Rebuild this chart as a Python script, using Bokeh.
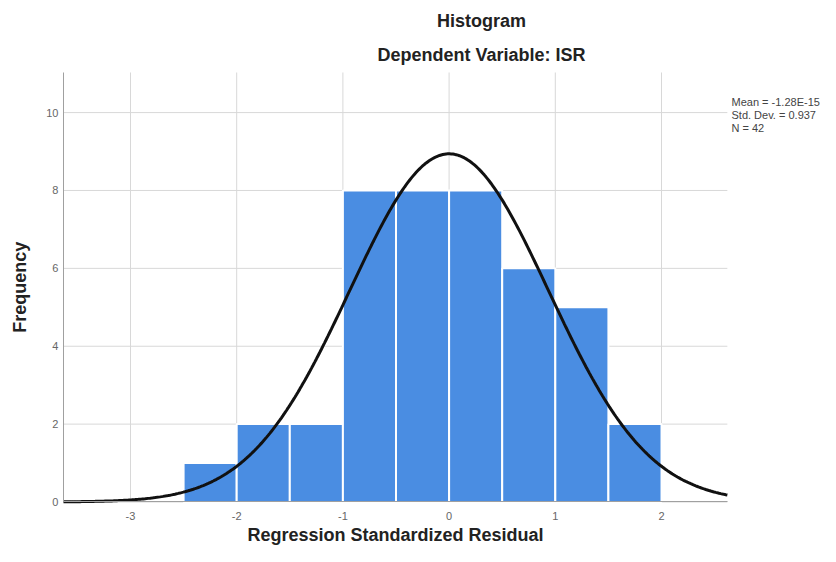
import numpy as np
from bokeh.plotting import figure
from bokeh.models import Range1d, Label, FixedTicker
from bokeh.embed import file_html
from bokeh.resources import INLINE

# Data
bin_edges = [-2.5, -2.0, -1.5, -1.0, -0.5, 0.0, 0.5, 1.0, 1.5, 2.0]
counts = [1, 2, 2, 8, 8, 8, 6, 5, 2]
x_ticks = [-3, -2, -1, 0, 1, 2]
y_ticks = [0, 2, 4, 6, 8, 10]
stat_mean = -1.28e-15
stat_sd = 0.937
stat_n = 42
stats_lines = ["Mean = -1.28E-15", "Std. Dev. = 0.937", "N = 42"]
title_text = "Histogram"
subtitle_text = "Dependent Variable: ISR"
x_label = "Regression Standardized Residual"
y_label = "Frequency"

FONT = "Liberation Sans"

# visible chart area (data units)
X0, X1 = -3.631, 2.62
Y0, Y1 = 0.0, 11.03

# the frame covers the whole canvas; axes are pinned to the chart area
p = figure(width=820, height=546, output_backend="svg", toolbar_location=None,
           x_range=Range1d(-4.224, 3.497), y_range=Range1d(-1.143, 12.879),
           min_border=0)
p.title.visible = False
p.outline_line_color = None
p.background_fill_color = "white"
p.xgrid.visible = False
p.ygrid.visible = False

# grid lines limited to the chart area
p.segment(x0=x_ticks, x1=x_ticks, y0=Y0, y1=Y1, line_color="#d8d8d8", line_width=1,
          level="underlay")
p.segment(x0=X0, x1=X1, y0=y_ticks, y1=y_ticks, line_color="#d8d8d8", line_width=1,
          level="underlay")

# bars
p.quad(left=bin_edges[:-1], right=bin_edges[1:], bottom=0, top=counts,
       fill_color="#4a8de2", line_color="white", line_width=2)

# normal curve from the stated statistics
bw = bin_edges[1] - bin_edges[0]
xs = np.linspace(X0, X1, 400)
ys = stat_n * bw * np.exp(-0.5 * ((xs - stat_mean) / stat_sd) ** 2) / (stat_sd * np.sqrt(2 * np.pi))
p.line(xs, ys, line_color="#111111", line_width=3)

# axes
for ax in (p.xaxis[0], p.yaxis[0]):
    ax.major_tick_line_color = None
    ax.minor_tick_line_color = None
    ax.major_tick_out = 0
    ax.major_tick_in = 0
    ax.minor_tick_out = 0
    ax.minor_tick_in = 0
    ax.axis_line_color = "#a0a0a0"
    ax.major_label_text_font = FONT
    ax.major_label_text_font_size = "11px"
    ax.major_label_text_color = "#666666"

p.xaxis.fixed_location = Y0
p.yaxis.fixed_location = X0
p.xaxis.bounds = (X0, X1)
p.yaxis.bounds = (Y0, Y1)
p.xaxis.ticker = FixedTicker(ticks=x_ticks)
p.yaxis.ticker = FixedTicker(ticks=y_ticks)
p.xaxis.major_label_overrides = {t: str(t) for t in x_ticks}
p.yaxis.major_label_overrides = {t: str(t) for t in y_ticks}
p.xaxis.major_label_standoff = 10
p.yaxis.major_label_standoff = 5

# axis titles
p.add_layout(Label(x=(X0 + X1) / 2, y=-0.835, text=x_label, text_align="center",
                   text_baseline="middle", text_font=FONT, text_font_size="18px",
                   text_font_style="bold", text_color="#222222"))
p.add_layout(Label(x=-4.04, y=(Y0 + Y1) / 2, text=y_label, text_align="center",
                   text_baseline="middle", angle=np.pi / 2, text_font=FONT,
                   text_font_size="18px", text_font_style="bold", text_color="#222222"))

# titles
p.add_layout(Label(x=0.305, y=12.365, text=title_text, text_align="center",
                   text_baseline="middle", text_font=FONT, text_font_size="18px",
                   text_font_style="bold", text_color="#222222"))
p.add_layout(Label(x=0.305, y=11.48, text=subtitle_text, text_align="center",
                   text_baseline="middle", text_font=FONT, text_font_size="18px",
                   text_font_style="bold", text_color="#222222"))

# stats on the right
stat_y = [10.285, 9.951, 9.617]
for t, yy in zip(stats_lines, stat_y):
    p.add_layout(Label(x=2.659, y=yy, text=t, text_align="left", text_baseline="middle",
                       text_font=FONT, text_font_size="11px", text_color="#444444"))

open("out.html", "w").write(file_html(p, INLINE))
